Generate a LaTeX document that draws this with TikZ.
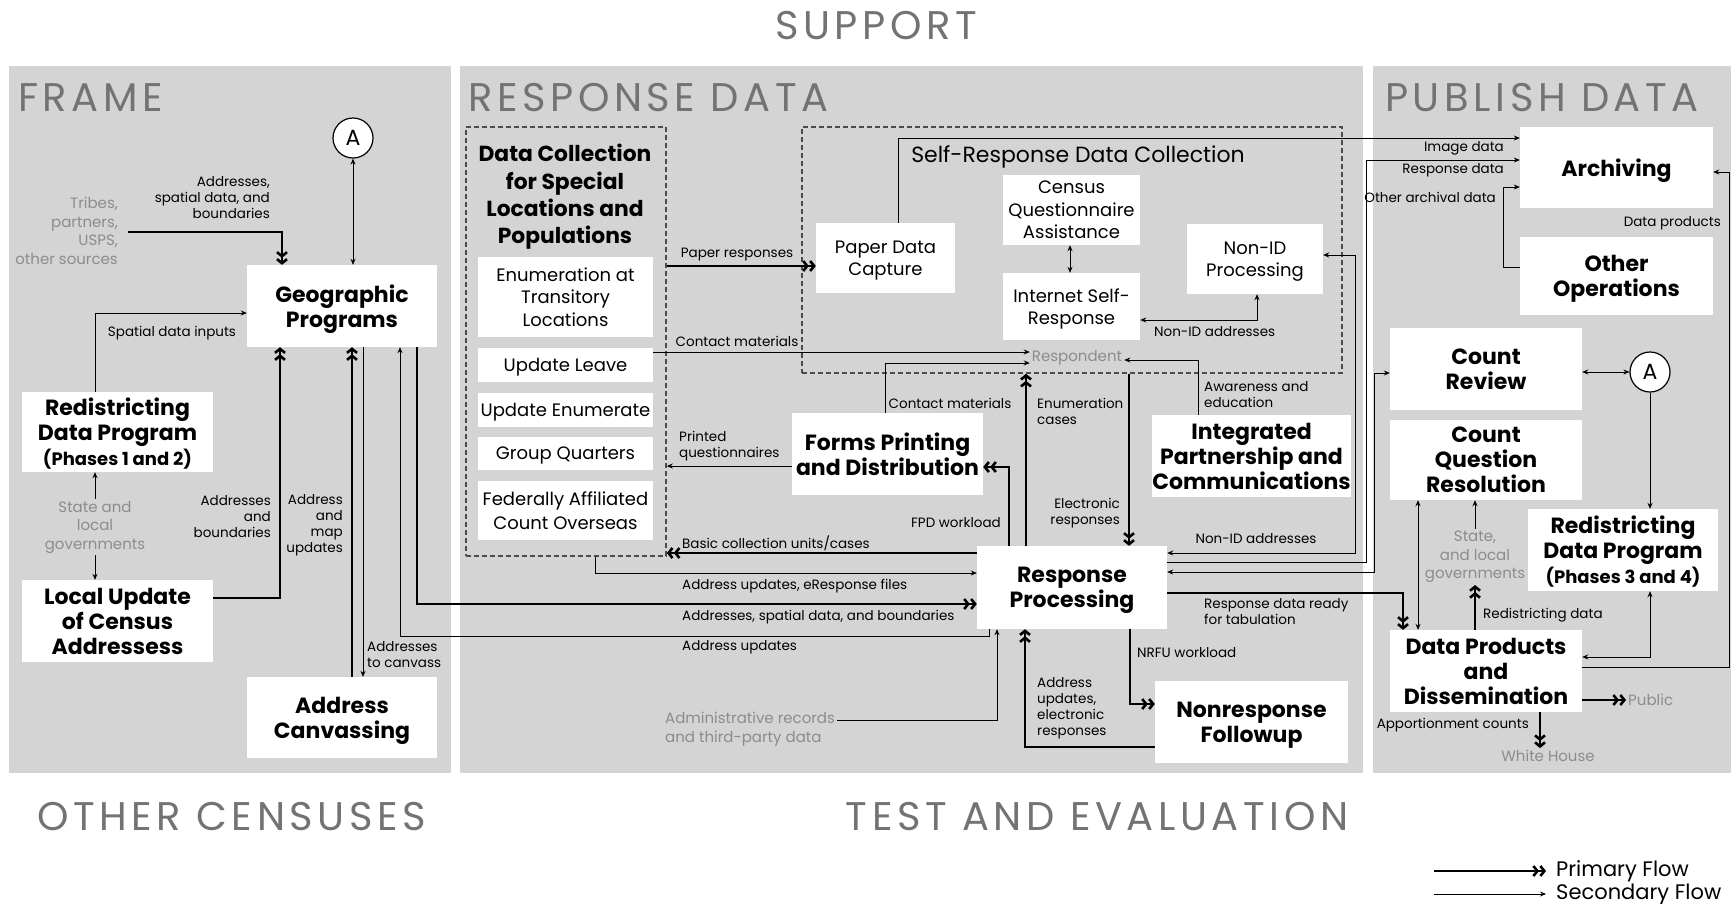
\documentclass[tikz,border=0pt]{standalone}
\usepackage{fontspec}
\setmainfont{Poppins}
\usetikzlibrary{arrows.meta}
\begin{document}
\begin{tikzpicture}[x=1pt,y=-1pt,
  panel/.style={fill=black!17, draw=none},
  bbox/.style={fill=white, draw=none, inner sep=0pt, align=center, text depth=0pt, font=\bfseries\fontsize{22}{25}\selectfont},
  rbox/.style={fill=white, draw=none, inner sep=0pt, align=center, text depth=0pt, font=\fontsize{18}{22.5}\selectfont},
  dashbox/.style={draw=black!70, line width=1.6pt, dash pattern=on 5pt off 3pt, fill=none, inner sep=0pt},
  lbl/.style={inner sep=1pt, font=\fontsize{13.5}{16}\selectfont},
  glbl/.style={inner sep=2pt, text=black!45, font=\fontsize{15}{18.5}\selectfont},
  ttl/.style={inner sep=0pt, text=black!55, font=\fontsize{40}{42}\selectfont\addfontfeatures{LetterSpace=11.5}},
  circ/.style={circle, draw, fill=white, line width=1.2pt, minimum size=40pt, inner sep=0pt, font=\fontsize{22}{24}\selectfont},
  prim/.style={line width=2.6pt, -{Straight Barb[length=4pt,width=10pt] Straight Barb[length=4pt,width=10pt]}},
  sec/.style={line width=0.8pt, -{Stealth[length=6pt,width=5pt]}},
  secb/.style={line width=0.8pt, {Stealth[length=6pt,width=5pt]}-{Stealth[length=6pt,width=5pt]}}
]
\useasboundingbox (0,0) rectangle (1736,903);
\fill[white] (0,0) rectangle (1736,903);

% panels
\fill[panel] (9,66) rectangle (451,773);
\fill[panel] (460,66) rectangle (1363,773);
\fill[panel] (1373,66) rectangle (1731,773);

% titles
\node[ttl] (tsup) at (876,26) {SUPPORT};
\node[ttl, anchor=west] (tframe) at (18,98) {FRAME};
\node[ttl, anchor=west] (tresp) at (468,98) {RESPONSE DATA};
\node[ttl, anchor=west] (tpub) at (1385,98) {PUBLISH DATA};
\node[ttl, anchor=west] (toth) at (37,817) {OTHER CENSUSES};
\node[ttl] (ttest) at (1097,817) {TEST AND EVALUATION};

% dashed group boxes
\node[dashbox, minimum width=200pt, minimum height=429pt] (dc) at (566,341.5) {};
\node[dashbox, minimum width=540pt, minimum height=246pt] (sr) at (1072,250) {};
\node[inner sep=0pt, align=center, font=\bfseries\fontsize{21.8}{27.3}\selectfont] (dct) at (565,197) {Data Collection\\for Special\\Locations and\\Populations};
\node[inner sep=0pt, font=\fontsize{22}{24}\selectfont] (srt) at (1078,157) {Self-Response Data Collection};

% FRAME boxes
\node[circ] (A1) at (353,138) {A};
\node[bbox, minimum width=190pt, minimum height=82pt] (geo) at (342,306) {Geographic\\Programs};
\node[bbox, minimum width=191pt, minimum height=80pt] (rdp12) at (117.5,432) {Redistricting\\Data Program\\{\fontsize{18}{20}\selectfont (Phases 1 and 2)}};
\node[bbox, minimum width=191pt, minimum height=82pt] (luca) at (117.5,621) {Local Update\\of Census\\Addressess};
\node[bbox, minimum width=190pt, minimum height=81pt] (adcan) at (342,717.5) {Address\\Canvassing};

% RESPONSE boxes
\node[rbox, minimum width=175pt, minimum height=80pt] (etl) at (565.5,297) {Enumeration at\\Transitory\\Locations};
\node[rbox, minimum width=175pt, minimum height=34pt] (ul) at (565.5,365) {Update Leave};
\node[rbox, minimum width=175pt, minimum height=34pt] (ue) at (565.5,410) {Update Enumerate};
\node[rbox, minimum width=175pt, minimum height=33pt] (gq) at (565.5,453.5) {Group Quarters};
\node[rbox, minimum width=175pt, minimum height=59pt, font=\fontsize{18}{24}\selectfont] (faco) at (565.5,510.5) {Federally Affiliated\\Count Overseas};
\node[rbox, minimum width=139pt, minimum height=70pt] (pdc) at (885.5,258) {Paper Data\\Capture};
\node[rbox, minimum width=137pt, minimum height=70pt] (cqa) at (1071.5,210) {Census\\Questionnaire\\Assistance};
\node[rbox, minimum width=137pt, minimum height=67pt] (isr) at (1071.5,306.5) {Internet Self-\\Response};
\node[rbox, minimum width=136pt, minimum height=70pt] (nidp) at (1255,259) {Non-ID\\Processing};
\node[bbox, minimum width=191pt, minimum height=82pt] (fpd) at (887.5,454) {Forms Printing\\and Distribution};
\node[bbox, minimum width=193pt, minimum height=82pt] (ipc) at (1251.5,456) {Integrated\\Partnership and\\Communications};
\node[bbox, minimum width=190pt, minimum height=83pt] (rp) at (1072,587.5) {Response\\Processing};
\node[bbox, minimum width=193pt, minimum height=82pt] (nrfu) at (1251.5,722) {Nonresponse\\Followup};
\node[glbl] (resp) at (1077,358) {Respondent};

% PUBLISH boxes
\node[bbox, minimum width=193pt, minimum height=81pt] (arch) at (1616.5,167.5) {Archiving};
\node[bbox, minimum width=193pt, minimum height=78pt] (oo) at (1616.5,276) {Other\\Operations};
\node[bbox, minimum width=192pt, minimum height=82pt] (cr) at (1486,369) {Count\\Review};
\node[bbox, minimum width=192pt, minimum height=80pt] (cqr) at (1486,460) {Count\\Question\\Resolution};
\node[bbox, minimum width=190pt, minimum height=82pt] (rdp34) at (1623,550) {Redistricting\\Data Program\\{\fontsize{18}{20}\selectfont (Phases 3 and 4)}};
\node[bbox, minimum width=192pt, minimum height=82pt] (dpd) at (1486,671) {Data Products\\and\\Dissemination};
\node[circ] (A2) at (1650,372) {A};

% labels FRAME
\node[glbl, anchor=east, align=right] (tribes) at (120,231) {Tribes,\\partners,\\USPS,\\other sources};
\node[lbl, anchor=east, align=right] (l1) at (271,198) {Addresses,\\spatial data, and\\boundaries};
\node[lbl] (l2) at (172,333) {Spatial data inputs};
\node[glbl, align=center] (sg1) at (95,527) {State and\\local\\governments};
\node[lbl, anchor=east, align=right] (l3) at (272,517) {Addresses\\and\\boundaries};
\node[lbl, anchor=east, align=right] (l4) at (344,525) {Address\\and\\map\\updates};
\node[lbl, anchor=west, align=left] (l5) at (366,655) {Addresses\\to canvass};

% labels RESPONSE
\node[lbl] (l6) at (737,255) {Paper responses};
\node[lbl] (l7) at (737,341) {Contact materials};
\node[lbl] (l8) at (950,403) {Contact materials};
\node[lbl, anchor=west, align=left] (l9) at (678,446) {Printed\\questionnaires};
\node[lbl, anchor=west] (l10) at (681,543) {Basic collection units/cases};
\node[lbl, anchor=west] (l11) at (681,586) {Address updates, eResponse files};
\node[lbl, anchor=west] (l12) at (681,617) {Addresses, spatial data, and boundaries};
\node[lbl, anchor=west] (l13) at (681,647) {Address updates};
\node[glbl, anchor=west, align=left] (admin) at (663,729) {Administrative records\\and third-party data};
\node[lbl, anchor=east] (l14) at (1002,523) {FPD workload};
\node[lbl, anchor=west, align=left] (l15) at (1036,411) {Enumeration\\cases};
\node[lbl, anchor=east, align=right] (l16) at (1121,513) {Electronic\\responses};
\node[lbl, anchor=west, align=left] (l17) at (1203,395) {Awareness and\\education};
\node[lbl, anchor=west] (l18) at (1153,332) {Non-ID addresses};
\node[lbl] (l19) at (1256,539) {Non-ID addresses};
\node[lbl, anchor=west, align=left] (l20) at (1203,612) {Response data ready\\for tabulation};
\node[lbl, anchor=west] (l21) at (1136,653) {NRFU workload};
\node[lbl, anchor=west, align=left] (l22) at (1036,708) {Address\\updates,\\electronic\\responses};

% labels PUBLISH
\node[lbl, anchor=east] (l23) at (1505,148) {Image data};
\node[lbl, anchor=east] (l24) at (1505,170) {Response data};
\node[lbl, anchor=east] (l25) at (1497,197) {Other archival data};
\node[lbl, anchor=east] (l26) at (1722,223) {Data products};
\node[glbl, align=center] (sg2) at (1475,557) {State,\\and local\\governments};
\node[lbl, anchor=west] (l27) at (1482,615) {Redistricting data};
\node[glbl, anchor=west] (public) at (1626,700) {Public};
\node[lbl, anchor=east] (l28) at (1530,725) {Apportionment counts};
\node[glbl] (wh) at (1548,756) {White House};

% connectors FRAME
\coordinate (tribesOut) at (128,232);
\draw[prim] (tribesOut) -| (geo.north -| 282,0);
\draw[secb] (A1) -- (geo.north -| A1);
\draw[sec] (rdp12.north -| 95,0) |- (geo.west |- 0,313);
\draw[sec] (sg1.north) -- (rdp12.south -| sg1);
\draw[sec] (sg1.south) -- (luca.north -| sg1);
\draw[prim] (luca.east |- 0,598) -| (geo.south -| 280,0);
\draw[prim] (adcan.north -| 352,0) -- (geo.south -| 352,0);
\draw[sec] (geo.south -| 363,0) -- (adcan.north -| 363,0);
\draw[sec] (rp.south -| 989,0) |- (400,636) -- (geo.south -| 400,0);
\draw[prim] (geo.south -| 417,0) |- (rp.west |- 0,604);

% connectors RESPONSE
\draw[prim] (dc.east |- 0,266) -- (pdc.west |- 0,266);
\draw[sec] (ul.east |- 0,352) -- (resp.west |- 0,352);
\draw[sec] (fpd.north -| 885,0) |- (resp.west |- 0,363);
\draw[sec] (ipc.north -| 1198,0) |- (resp.east |- 0,360);
\draw[prim] (rp.north -| 1026,0) -- (sr.south -| 1026,0);
\draw[prim] (sr.south -| 1129,0) -- (rp.north -| 1129,0);
\draw[prim] (rp.north -| 1009,0) |- (fpd.east |- 0,467);
\draw[sec] (fpd.west |- 0,466) -- (dc.east |- 0,466);
\draw[prim] (rp.west |- 0,553) -- (dc.east |- 0,553);
\draw[sec] (dc.south -| 595,0) |- (rp.west |- 0,573);
\draw[sec] (admin.east |- 0,720) -| (rp.south -| 997,0);
\draw[prim] (nrfu.west |- 0,747) -| (rp.south -| 1025,0);
\draw[prim] (rp.south -| 1130,0) |- (nrfu.west |- 0,704);
\draw[secb] (isr.east |- 0,320) -| (nidp.south -| 1257,0);
\draw[secb] (cqa.south -| 1070,0) -- (isr.north -| 1070,0);
\draw[secb] (rp.east |- 0,553) -| (1355,255) -- (nidp.east |- 0,255);
\draw[sec] (pdc.north -| 898,0) |- (arch.west |- 0,138);
\draw[sec] (rp.east |- 0,562) -| (1366,160) -- (arch.west |- 0,160);
\draw[secb] (rp.east |- 0,572) -| (1374,373) -- (cr.west |- 0,373);
\draw[prim] (rp.east |- 0,593) -| (dpd.north -| 1403,0);

% connectors PUBLISH
\draw[sec] (oo.west |- 0,267) -| (1503,187) -- (arch.west |- 0,187);
\draw[sec] (dpd.east |- 0,667) -| (1729,172) -- (arch.east |- 0,172);
\draw[secb] (cr.east |- 0,372) -- (A2);
\draw[sec] (A2) -- (rdp34.north -| A2);
\draw[secb] (cqr.south -| 1418,0) -- (dpd.north -| 1418,0);
\draw[sec] (sg2.north) -- (cqr.south -| sg2);
\draw[prim] (dpd.north -| sg2) -- (sg2.south);
\draw[secb] (rdp34.south -| 1650,0) |- (dpd.east |- 0,657);
\draw[prim] (dpd.east |- 0,700) -- (public.west);
\draw[prim] (dpd.south -| 1540,0) -- (wh.north -| 1540,0);

% legend
\node[inner sep=1pt, anchor=west, font=\fontsize{21}{24}\selectfont] (lgp) at (1555,871) {Primary Flow};
\node[inner sep=1pt, anchor=west, font=\fontsize{21}{24}\selectfont] (lgs) at (1555,894) {Secondary Flow};
\coordinate (lgpS) at (1434,871);
\coordinate (lgsS) at (1434,894);
\draw[prim, shorten >=9pt] (lgpS) -- (lgp.west);
\draw[sec, shorten >=9pt] (lgsS) -- (lgs.west);
\end{tikzpicture}
\end{document}
